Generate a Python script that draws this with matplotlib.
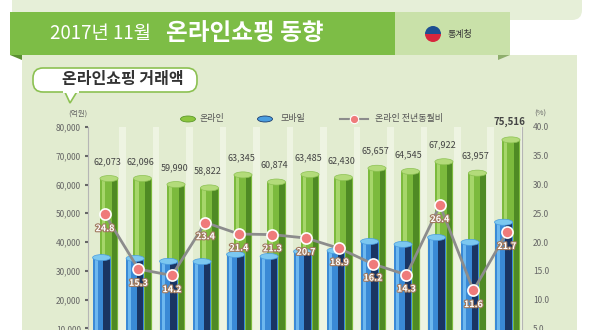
"""
2017년 11월 온라인쇼핑 동향 - 온라인쇼핑 거래액
"""

import matplotlib.pyplot as plt
import matplotlib.patheffects as pe
from matplotlib.patches import Rectangle, FancyBboxPatch, Ellipse, Wedge, Polygon
import numpy as np

plt.rcParams['font.family'] = ['Noto Sans CJK KR', 'DejaVu Sans']

# data (억원, %)
months = ['2016.11', '2016.12', '2017.01', '2017.02', '2017.03', '2017.04', '2017.05',
          '2017.06', '2017.07', '2017.08', '2017.09', '2017.10', '2017.11']
online = [62073, 62096, 59990, 58822, 63345, 60874, 63485,
          62430, 65657, 64545, 67922, 63957, 75516]
mobile = [34600, 34300, 33300, 33200, 35700, 35000, 36700,
          37000, 40200, 39200, 41600, 39900, 46900]
yoy = [24.8, 15.3, 14.2, 23.4, 21.4, 21.3, 20.7,
       18.9, 16.2, 14.3, 26.4, 11.6, 21.7]
yoy_labels = ['24.8', '15.3', '14.2', '23.4', '21.4', '21.3', '20.7',
              '18.9', '16.2', '14.3', '26.4', '11.6', '21.7']

W, H = 600, 330
fig = plt.figure(figsize=(6, 3.3), dpi=100, facecolor='white')

# background / decoration layer in pixel coordinates
bg = fig.add_axes([0, 0, 1, 1], zorder=0)
bg.set_xlim(0, W)
bg.set_ylim(H, 0)
bg.axis('off')

bg.add_patch(FancyBboxPatch((12, -10), 570, 30, boxstyle='round,pad=0,rounding_size=10',
                            fc='#e6efd8', ec='none'))
bg.add_patch(Rectangle((22, 55), 555, 280, fc='#e2ecd0', ec='none'))
bg.add_patch(Rectangle((10, 12), 385, 43, fc='#7dbd46', ec='none'))
bg.add_patch(Rectangle((395, 12), 115, 43, fc='#c9e1a9', ec='none'))
bg.add_patch(Polygon([[10, 55], [22, 55], [22, 60]], closed=True, fc='#5a8f30', ec='none'))
bg.add_patch(Polygon([[510, 55], [498, 55], [498, 60]], closed=True, fc='#8fae6c', ec='none'))
bg.text(50, 34, '2017년 11월', color='white', fontsize=13.5, va='center', ha='left')
bg.text(166, 33, '온라인쇼핑 동향', color='white', fontsize=17, fontweight='bold',
        va='center', ha='left')
# logo
bg.add_patch(Wedge((433, 34), 8, 0, 180, fc='#d7263d', ec='none'))
bg.add_patch(Wedge((433, 34), 8, 180, 360, fc='#1d4f91', ec='none'))
bg.text(448, 34, '통계청', fontsize=6.5, color='#333333', va='center', ha='left')

# speech bubble
bg.add_patch(Polygon([[64, 90], [78, 90], [70, 103]], closed=True, fc='white',
                     ec='#8cc152', lw=1.2))
bg.add_patch(FancyBboxPatch((33, 68), 164, 24, boxstyle='round,pad=0,rounding_size=10',
                            fc='white', ec='#8cc152', lw=1.2))
bg.add_patch(Rectangle((63, 89), 16, 3.5, fc='white', ec='none'))
bg.text(123, 79, '온라인쇼핑 거래액', fontsize=11.5, fontweight='bold', color='#333333',
        ha='center', va='center')

# legend
bg.add_patch(Ellipse((188, 119), 15, 6, fc='#8cc63f', ec='#5d9a2c', lw=0.6))
bg.text(199, 119, '온라인', fontsize=6.5, color='#555555', va='center')
bg.add_patch(Ellipse((265, 119), 15, 6, fc='#4a9de0', ec='#1d3f70', lw=0.6))
bg.text(281, 119, '모바일', fontsize=6.5, color='#555555', va='center')
bg.plot([340, 368], [119, 119], color='#8c8c8c', lw=1.5)
bg.plot([354], [119], 'o', ms=6, mfc='#ef7b7b', mec='white', mew=0.8)
bg.text(375, 119, '온라인 전년동월비', fontsize=6.5, color='#555555', va='center')

bg.text(78, 114, '(억원)', fontsize=5.5, color='#666666', ha='center', va='center')
bg.text(540, 114, '(%)', fontsize=5.5, color='#666666', ha='center', va='center')

# main chart
ax = fig.add_axes([88 / W, 0, 434 / W, 1 - 127 / H], zorder=1)
ax.patch.set_alpha(0)
x = np.arange(len(months))
ax.set_xlim(-0.507, 12.45)
ax.set_ylim(9440, 80000)

for xi in x:
    ax.axvspan(xi + 0.42, xi + 0.62, color='#eef4e2', zorder=0, lw=0)

bw = 0.54
gx = x + 0.12
bx = x - 0.10
ax.bar(gx, online, width=bw, color='#7cba3d', zorder=2)
ax.bar(gx - bw * 0.3, online, width=bw * 0.18, color='#a6d66a', zorder=2)
ax.bar(gx + bw * 0.3, online, width=bw * 0.3, color='#4f8a24', zorder=2)
ax.bar(bx, mobile, width=bw, color='#3a8ad6', zorder=3)
ax.bar(bx - bw * 0.3, mobile, width=bw * 0.18, color='#6db8ef', zorder=3)
ax.bar(bx + bw * 0.27, mobile, width=bw * 0.36, color='#1a3563', zorder=3)

eh = 2100
for xi, v in zip(gx, online):
    ax.add_patch(Ellipse((xi, v), bw, eh, fc='#b3db7a', ec='#8cc152', lw=0.5, zorder=2))
for xi, v in zip(bx, mobile):
    ax.add_patch(Ellipse((xi, v), bw, eh, fc='#7cc8f0', ec='#4a9de0', lw=0.5, zorder=3))

for i, (xi, v) in enumerate(zip(gx, online)):
    bold = i == len(online) - 1
    ax.annotate(f'{v:,}', (xi - 0.05, v), xytext=(0, 9), textcoords='offset points',
                ha='center', va='bottom', fontsize=6.5 if not bold else 7,
                fontweight='bold' if bold else 'normal', color='#444444', zorder=5)

ax.set_yticks(range(10000, 80001, 10000))
ax.set_yticklabels([f'{t:,}' for t in range(10000, 80001, 10000)])
ax.tick_params(axis='y', labelsize=6, colors='#666666', length=2, width=1.5, pad=3)
ax.tick_params(axis='x', bottom=False, labelbottom=False)
for s in ['top', 'right', 'bottom']:
    ax.spines[s].set_visible(False)
ax.spines['left'].set_color('#b5b5b5')
ax.spines['left'].set_linewidth(0.8)

ax2 = ax.twinx()
ax2.set_ylim(4.72, 40)
ax2.plot(x, yoy, color='#8c8c8c', lw=2, zorder=4)
ax2.plot(x, yoy, 'o', ms=8, mfc='#ef7b7b', mec='white', mew=1.2, zorder=5)
for xi, v, t in zip(x, yoy, yoy_labels):
    ax2.annotate(t, (xi, v), xytext=(0, -7), textcoords='offset points', ha='center',
                 va='top', fontsize=6.5, fontweight='bold', color='white', zorder=6,
                 path_effects=[pe.withStroke(linewidth=1.6, foreground='#a07a60')])
ax2.set_yticks(np.arange(5, 40.1, 5))
ax2.set_yticklabels([f'{t:.1f}' for t in np.arange(5, 40.1, 5)])
ax2.tick_params(axis='y', labelsize=6, colors='#666666', length=0, pad=8)
for s in ['top', 'left', 'bottom']:
    ax2.spines[s].set_visible(False)
ax2.spines['right'].set_color('#b5b5b5')
ax2.spines['right'].set_linewidth(0.8)

fig.savefig('out.png', dpi=100, facecolor='white')
